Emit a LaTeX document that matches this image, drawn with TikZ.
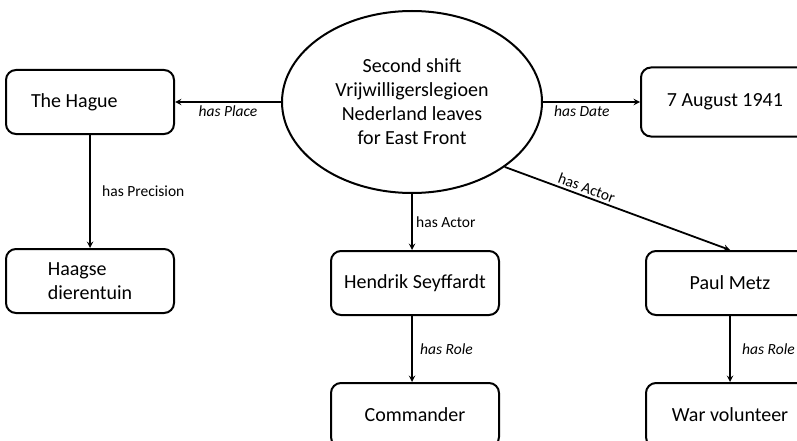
\documentclass[tikz,border=0pt]{standalone}
\usepackage{fontspec}
\setmainfont{Carlito}
\usetikzlibrary{shapes.geometric, arrows, positioning}
\tikzstyle{fact} = [rectangle, rounded corners=10pt, minimum width=168pt, minimum height=64pt, text centered, draw=black, line width=2pt, font=\fontsize{20}{24}\selectfont]
\tikzstyle{event} = [ellipse, minimum width=260pt, minimum height=182pt, inner sep=0pt, align=center, draw=black, line width=2pt, font=\fontsize{20}{24}\selectfont]
\tikzstyle{arrow} = [line width=1.8pt,->,>=stealth]
\tikzstyle{rel} = [font=\fontsize{15.5}{18}\selectfont]
\tikzstyle{relit} = [font=\fontsize{15.5}{18}\selectfont\itshape]

\begin{document}
\begin{tikzpicture}[x=1pt, y=1pt]
\useasboundingbox (0,0) rectangle (797,-441);
\node (event) [event] at (412,-102) {Second shift\\Vrijwilligerslegioen\\Nederland leaves\\for East Front};

\node (hague) [fact, left=106pt of event, align=flush left, text width=118pt] {The Hague};

\node (zoo) [fact, below=113pt of hague, align=left] {Haagse\\dierentuin};

\node (date) [fact, right=97pt of event, minimum height=69pt] {7 August 1941};

\node (hendrik) [fact, below=56pt of event, xshift=3pt] {Hendrik Seyffardt};
\node (commander) [fact, below=66pt of hendrik] {Commander};

\node (metz) [fact, right=145pt of hendrik] {Paul Metz};
\node (volunteer) [fact, below=66pt of metz] {War volunteer};

\draw [arrow] (event) -- node[relit, below] {has Place} (hague);
\draw [arrow] (event) -- node[relit, below, pos=0.4] {has Date} (date);
\draw [arrow] (event) -- node[rel, right] {has Actor} (event |- hendrik.north);
\draw [arrow] (event.-35) -- node[rel, above, sloped, pos=0.35, inner sep=2.5pt] {has Actor} (metz.north);
\draw [arrow] (hague) -- node[rel, right=8pt] {has Precision} (zoo);
\draw [arrow] (hendrik.south -| event) -- node[relit, right=4pt] {has Role} (commander.north -| event);
\draw [arrow] (metz) -- node[relit, right=8pt] {has Role} (volunteer);
\end{tikzpicture}
\end{document}
